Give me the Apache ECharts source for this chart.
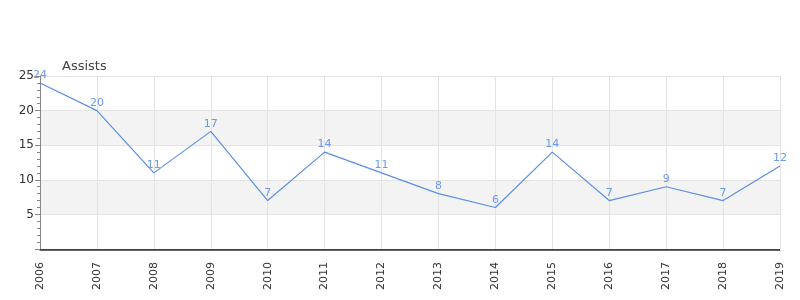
<!DOCTYPE html>
<html><head><meta charset="utf-8">
<script src="https://cdn.jsdelivr.net/npm/echarts@6/dist/echarts.min.js"></script>
<style>html,body{margin:0;padding:0;background:#fff}#c{width:800px;height:300px}</style>
</head><body><div id="c"></div>
<script>
const years = ['2006','2007','2008','2009','2010','2011','2012','2013','2014','2015','2016','2017','2018','2019'];
const assists = [24,20,11,17,7,14,11,8,6,14,7,9,7,12];
const seriesName = 'Assists';
const zeroLine = 0;

const chart = echarts.init(document.getElementById('c'));
chart.setOption({
  animation: false,
  title: { text: seriesName, left: 57, top: 55, textStyle: { fontSize: 13, fontWeight: 'normal', color: '#444', fontFamily: 'DejaVu Sans' } },
  grid: { left: 40, right: 20, top: 76, bottom: 51 },
  xAxis: {
    type: 'category', data: years, boundaryGap: false, offset: 1,
    axisLine: { onZero: false, lineStyle: { color: '#666', width: 1 } },
    axisTick: { show: false },
    axisLabel: { rotate: 90, color: '#333', fontSize: 11, fontFamily: 'DejaVu Sans', margin: 12 },
    splitLine: { show: true, lineStyle: { color: '#e3e3e3' } }
  },
  yAxis: {
    type: 'value', min: 0, max: 25, interval: 5,
    axisLine: { show: true, lineStyle: { color: '#888' } },
    axisTick: { show: true, length: 5, lineStyle: { color: '#888' } },
    minorTick: { show: true, splitNumber: 5, length: 3, lineStyle: { color: '#888' } },
    axisLabel: { color: '#333', fontSize: 12, fontFamily: 'DejaVu Sans', margin: 6,
      formatter: v => v === 0 ? '' : String(v) },
    splitLine: { show: true, lineStyle: { color: '#e3e3e3' } },
    splitArea: { show: true, areaStyle: { color: ['#ffffff', '#f3f3f3'] } }
  },
  series: [{
    type: 'line', name: seriesName, data: assists,
    symbol: 'circle', symbolSize: 0, showSymbol: true,
    lineStyle: { color: '#5b8ee8', width: 1.2 },
    itemStyle: { color: '#5b8ee8' },
    label: { show: true, position: 'top', color: '#6d9beb', fontSize: 11, fontFamily: 'DejaVu Sans', distance: 2 },
    markLine: {
      silent: true, symbol: 'none', label: { show: false },
      lineStyle: { color: '#e00000', width: 1, type: 'solid' },
      data: [{ yAxis: zeroLine }]
    }
  }]
});
</script></body></html>
